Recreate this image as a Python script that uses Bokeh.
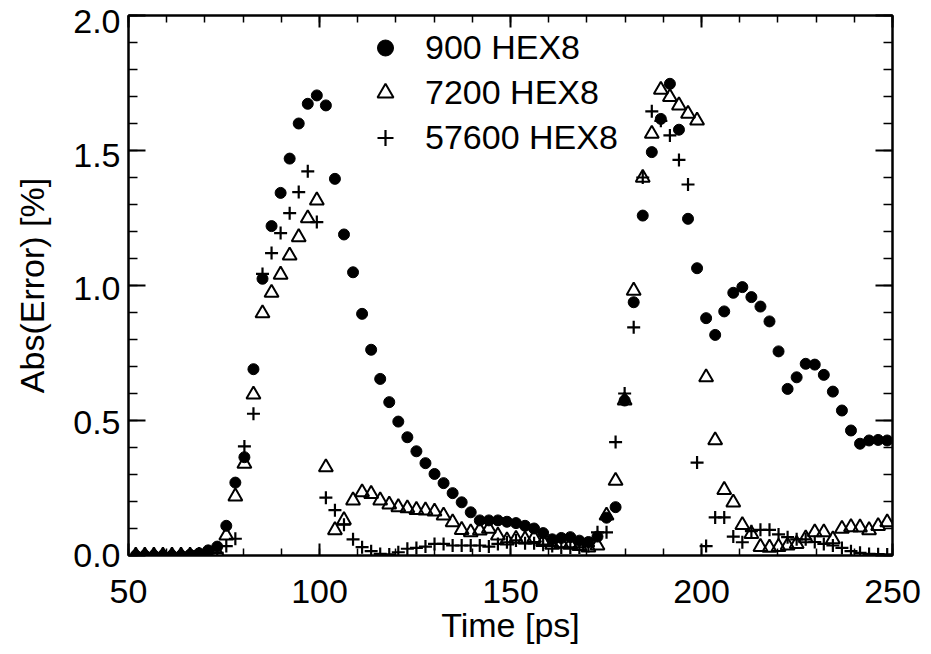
from bokeh.plotting import figure
from bokeh.models import (LinearAxis, SingleIntervalTicker, PrintfTickFormatter,
                          Range1d, Legend, LegendItem, ColumnDataSource)
from bokeh.embed import file_html
from bokeh.resources import INLINE

# ---- data ----
time_ps = [51.90, 54.27, 56.64, 59.01, 61.38, 63.75, 66.12, 68.49, 70.86, 73.23,
           75.60, 77.97, 80.34, 82.71, 85.08, 87.45, 89.82, 92.19, 94.56, 96.93,
           99.30, 101.67, 104.04, 106.41, 108.78, 111.15, 113.52, 115.89, 118.26, 120.63,
           123.00, 125.37, 127.74, 130.11, 132.48, 134.85, 137.22, 139.59, 141.96, 144.33,
           146.70, 149.07, 151.44, 153.81, 156.18, 158.55, 160.92, 163.29, 165.66, 168.03,
           170.40, 172.77, 175.14, 177.51, 179.88, 182.25, 184.62, 186.99, 189.36, 191.73,
           194.10, 196.47, 198.84, 201.21, 203.58, 205.95, 208.32, 210.69, 213.06, 215.43,
           217.80, 220.17, 222.54, 224.91, 227.28, 229.65, 232.02, 234.39, 236.76, 239.13,
           241.50, 243.87, 246.24, 248.61]

err_900 = [0.0, 0.0, 0.0, 0.0, 0.0, 0.0, 0.003, 0.008, 0.019, 0.033,
           0.11, 0.27, 0.364, 0.69, 1.025, 1.22, 1.343, 1.47, 1.60, 1.673,
           1.704, 1.667, 1.395, 1.189, 1.049, 0.895, 0.762, 0.654, 0.568, 0.496,
           0.438, 0.386, 0.342, 0.302, 0.268, 0.231, 0.197, 0.160, 0.13, 0.13,
           0.13, 0.125, 0.12, 0.11, 0.10, 0.083, 0.06, 0.065, 0.068, 0.055,
           0.05, 0.07, 0.14, 0.179, 0.574, 0.938, 1.259, 1.494, 1.617, 1.747,
           1.577, 1.247, 1.064, 0.879, 0.817, 0.904, 0.973, 0.994, 0.957, 0.922,
           0.867, 0.756, 0.617, 0.66, 0.71, 0.707, 0.669, 0.607, 0.537, 0.463,
           0.414, 0.426, 0.428, 0.426]

err_7200 = [0.0, 0.0, 0.0, 0.0, 0.0, 0.0, 0.0, 0.0, 0.0, 0.01,
            0.074, 0.219, 0.34, 0.596, 0.897, 0.973, 1.04, 1.111, 1.179, 1.249,
            1.315, 0.327, 0.094, 0.131, 0.204, 0.234, 0.228, 0.204, 0.189, 0.179,
            0.175, 0.169, 0.167, 0.163, 0.148, 0.123, 0.095, 0.086, 0.093, 0.099,
            0.074, 0.056, 0.062, 0.06, 0.065, 0.05, 0.04, 0.045, 0.04, 0.035,
            0.03, 0.037, 0.148, 0.277, 0.574, 0.981, 1.399, 1.562, 1.725, 1.698,
            1.667, 1.636, 1.611, 0.66, 0.427, 0.243, 0.196, 0.113, 0.08, 0.032,
            0.029, 0.032, 0.037, 0.043, 0.064, 0.086, 0.086, 0.06, 0.099, 0.105,
            0.104, 0.094, 0.109, 0.123]

err_57600 = [0.0, 0.0, 0.0, 0.0, 0.0, 0.0, 0.0, 0.0, 0.0, 0.01,
             0.035, 0.062, 0.404, 0.525, 1.043, 1.12, 1.194, 1.268, 1.346, 1.423,
             1.235, 0.214, 0.168, 0.114, 0.06, 0.031, 0.016, 0.006, 0.004, 0.012,
             0.025, 0.028, 0.033, 0.043, 0.043, 0.037, 0.037, 0.037, 0.037, 0.033,
             0.043, 0.049, 0.056, 0.045, 0.045, 0.04, 0.035, 0.03, 0.03, 0.03,
             0.035, 0.086, 0.086, 0.42, 0.60, 0.845, 1.40, 1.645, 1.61, 1.556,
             1.465, 1.374, 0.344, 0.035, 0.141, 0.141, 0.07, 0.049, 0.09, 0.095,
             0.095, 0.078, 0.068, 0.06, 0.06, 0.05, 0.043, 0.037, 0.028, 0.016,
             0.01, 0.006, 0.005, 0.004]

series_labels = ["900 HEX8", "7200 HEX8", "57600 HEX8"]
x_ticks_major = 50
y_ticks_major = 0.5

FONT = "Liberation Sans"
TICK_FS = "34px"
LABEL_FS = "34px"

src = ColumnDataSource(dict(t=time_ps, a=err_900, b=err_7200, c=err_57600))

p = figure(width=931, height=654, output_backend="svg", toolbar_location=None,
           x_range=Range1d(50, 250), y_range=Range1d(0, 2.0),
           min_border_left=128, min_border_right=39, min_border_top=15, min_border_bottom=99,
           x_axis_type=None, y_axis_type=None)
# the y tick labels sit on a range a touch taller than the data range, so that the
# top label "2.0" is nudged just inside the picture (as in the original)
p.extra_y_ranges = {"ylabels": Range1d(0, 2.0225)}
p.xgrid.visible = False
p.ygrid.visible = False
p.outline_line_color = "black"
p.outline_line_width = 2
p.background_fill_color = "white"
p.border_fill_color = "white"


def style_axis(ax, labels, tick_in, minor_in):
    ax.axis_line_color = "black"
    ax.axis_line_width = 2
    ax.major_tick_in = tick_in
    ax.major_tick_out = 0
    ax.minor_tick_in = minor_in
    ax.minor_tick_out = 0
    ax.major_tick_line_width = 2
    ax.minor_tick_line_width = 1.5
    ax.major_tick_line_color = "black"
    ax.minor_tick_line_color = "black"
    if labels:
        ax.major_label_text_font = FONT
        ax.major_label_text_font_size = TICK_FS
        ax.major_label_text_color = "black"
    else:
        ax.major_label_text_font_size = "1px"
        ax.major_label_text_color = None
        ax.major_label_standoff = 0


# bottom axis
xb = LinearAxis(ticker=SingleIntervalTicker(interval=x_ticks_major, num_minor_ticks=5),
                formatter=PrintfTickFormatter(format="%d"))
style_axis(xb, True, 12, 7)
xb.major_label_standoff = 24
xb.axis_label = "Time [ps]"
xb.axis_label_text_font = FONT
xb.axis_label_text_font_size = LABEL_FS
xb.axis_label_text_font_style = "normal"
xb.axis_label_text_color = "black"
xb.axis_label_standoff = 0
p.add_layout(xb, "below")

# left: inner axis draws the ticks, outer axis carries labels and title
yl_ticks = LinearAxis(ticker=SingleIntervalTicker(interval=y_ticks_major, num_minor_ticks=5))
style_axis(yl_ticks, False, 17, 9)
p.add_layout(yl_ticks, "left")

yl = LinearAxis(ticker=SingleIntervalTicker(interval=y_ticks_major, num_minor_ticks=5),
                formatter=PrintfTickFormatter(format="%.1f"), y_range_name="ylabels")
style_axis(yl, True, 0, 0)
yl.axis_line_color = None
yl.major_tick_line_color = None
yl.minor_tick_line_color = None
yl.major_label_standoff = 8
yl.axis_label = "Abs(Error) [%]"
yl.axis_label_text_font = FONT
yl.axis_label_text_font_size = LABEL_FS
yl.axis_label_text_font_style = "normal"
yl.axis_label_text_color = "black"
yl.axis_label_standoff = 19
p.add_layout(yl, "left")

# top / right axes: ticks only
xt = LinearAxis(ticker=SingleIntervalTicker(interval=x_ticks_major, num_minor_ticks=5))
style_axis(xt, False, 12, 7)
p.add_layout(xt, "above")
yr = LinearAxis(ticker=SingleIntervalTicker(interval=y_ticks_major, num_minor_ticks=5))
style_axis(yr, False, 17, 9)
p.add_layout(yr, "right")

r1 = p.scatter("t", "a", source=src, marker="circle", size=11,
               fill_color="black", line_color="black")
r2 = p.scatter("t", "b", source=src, marker="triangle", size=14,
               fill_color=None, line_color="black", line_width=2)
r3 = p.scatter("t", "c", source=src, marker="cross", size=13,
               line_color="black", line_width=2.2)

legend = Legend(items=[LegendItem(label=series_labels[0], renderers=[r1]),
                       LegendItem(label=series_labels[1], renderers=[r2]),
                       LegendItem(label=series_labels[2], renderers=[r3])],
                location=(237, 395), border_line_color=None, background_fill_alpha=0,
                padding=0, margin=0, spacing=0, glyph_width=40, glyph_height=45,
                label_height=45, label_standoff=20,
                label_text_font=FONT, label_text_font_size="34px",
                label_text_color="black")
p.add_layout(legend)

open("out.html", "w").write(file_html(p, INLINE))
